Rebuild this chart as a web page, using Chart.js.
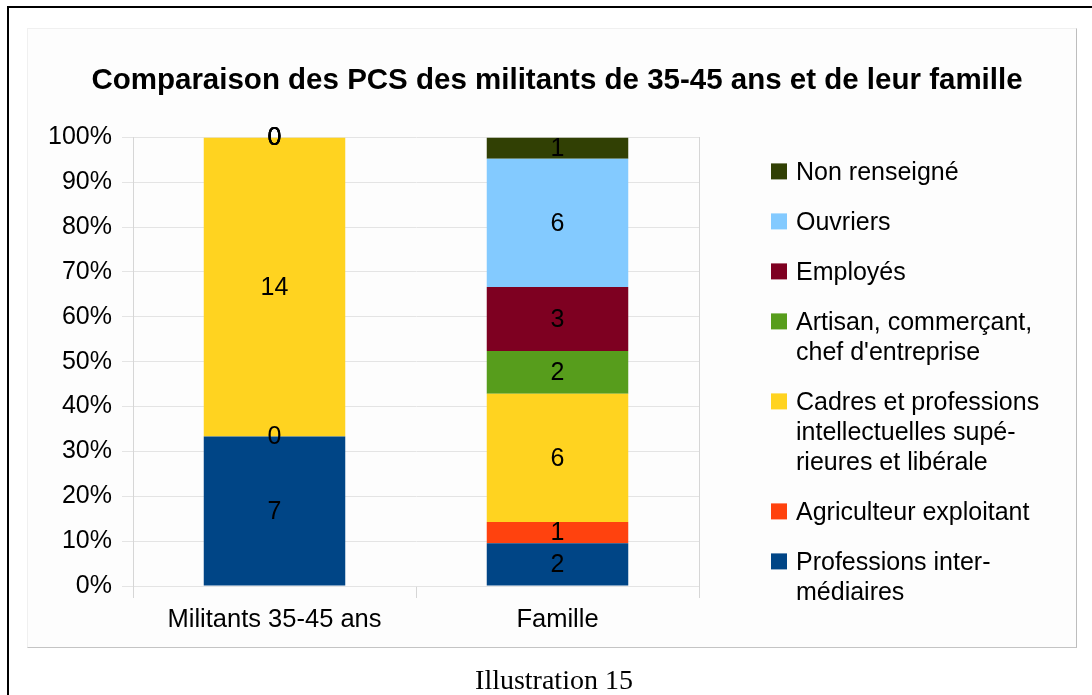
<!DOCTYPE html>
<html>
<head>
<meta charset="utf-8">
<script src="https://cdn.jsdelivr.net/npm/chart.js@4/dist/chart.umd.min.js"></script>
<style>
  html, body { margin: 0; padding: 0; background: #fff; overflow: hidden; }
  body { width: 1092px; height: 695px; position: relative; }
  #frame { position: absolute; left: 7px; top: 6px; width: 1200px; height: 800px; border: 2px solid #000; }
  #panel { position: absolute; left: 27px; top: 28px; width: 1048px; height: 618px; background: #fdfdfd;
           border: 1px solid #f0f0f0; border-right-color: #bdbdbd; border-bottom-color: #c4c4c4; }
  #wrap { position: absolute; left: 0; top: 0; width: 1092px; height: 695px; }
  #caption { position: absolute; left: 0; width: 1108px; top: 665px; line-height: 30px; text-align: center;
             font-size: 28px; font-family: 'Liberation Serif', 'Times New Roman', serif; color: #000; }
</style>
</head>
<body>
<div id="frame"></div>
<div id="panel"></div>
<div id="wrap"><canvas id="chart"></canvas></div>
<div id="caption">Illustration 15</div>
<script>
// bars
const categories = ['Militants 35-45 ans', 'Famille'];

// counts per PCS, from bottom of the stack to the top
const professionsInter = [7, 2];
const agriculteur = [0, 1];
const cadres = [14, 6];
const artisan = [0, 2];
const employes = [0, 3];
const ouvriers = [0, 6];
const nonRenseigne = [0, 1];

const seriesNames = [
    'Professions intermédiaires',
    'Agriculteur exploitant',
    'Cadres et professions intellectuelles supérieures et libérale',
    'Artisan, commerçant, chef d\'entreprise',
    'Employés',
    'Ouvriers',
    'Non renseigné'
];
// legend text as it is wrapped in the picture
const legendLines = [
    ['Professions inter-', 'médiaires'],
    ['Agriculteur exploitant'],
    ['Cadres et professions', 'intellectuelles supé-', 'rieures et libérale'],
    ['Artisan, commerçant,', 'chef d\'entreprise'],
    ['Employés'],
    ['Ouvriers'],
    ['Non renseigné']
];
const seriesValues = [professionsInter, agriculteur, cadres, artisan, employes, ouvriers, nonRenseigne];
const seriesColors = ['#004586', '#ff420e', '#ffd320', '#579d1c', '#7e0021', '#83caff', '#314004'];

const FONT = '"Liberation Sans", Arial, sans-serif';

// 100% stacked: turn counts into shares of each bar
var totals = categories.map(function (c, j) {
    return seriesValues.reduce(function (s, arr) { return s + arr[j]; }, 0);
});

var datasets = seriesValues.map(function (arr, i) {
    return {
        label: seriesNames[i],
        data: arr.map(function (v, j) { return v / totals[j] * 100; }),
        counts: arr,
        backgroundColor: seriesColors[i],
        borderWidth: 0,
        barPercentage: 0.5,
        categoryPercentage: 1
    };
});

// count written in the middle of each segment
const valueLabels = {
    id: 'valueLabels',
    afterDatasetsDraw(chart) {
        var ctx = chart.ctx;
        ctx.save();
        ctx.font = '25px ' + FONT;
        ctx.fillStyle = '#000';
        ctx.textAlign = 'center';
        ctx.textBaseline = 'middle';
        chart.data.datasets.forEach(function (ds, i) {
            chart.getDatasetMeta(i).data.forEach(function (bar, j) {
                ctx.fillText(String(ds.counts[j]), bar.x, (bar.y + bar.base) / 2 + 1);
            });
        });
        ctx.restore();
    }
};

// legend on the right, top item = top of the stack
const sideLegend = {
    id: 'sideLegend',
    afterDraw(chart) {
        var ctx = chart.ctx;
        var area = chart.chartArea;
        var boxX = area.right + 72;
        var textX = area.right + 97;
        var y = area.top + 35;
        ctx.save();
        ctx.font = '25px ' + FONT;
        ctx.textAlign = 'left';
        ctx.textBaseline = 'middle';
        for (var i = seriesNames.length - 1; i >= 0; i--) {
            ctx.fillStyle = seriesColors[i];
            ctx.fillRect(boxX, y - 9, 16, 16);
            ctx.fillStyle = '#000';
            legendLines[i].forEach(function (line, k) {
                ctx.fillText(line, textX, y + k * 30 + 1);
            });
            y += legendLines[i].length * 30 + 20;
        }
        ctx.restore();
    }
};

var chart = new Chart(document.getElementById('chart'), {
    type: 'bar',
    data: {
        labels: categories,
        datasets: datasets
    },
    options: {
        responsive: true,
        maintainAspectRatio: false,
        animation: false,
        layout: { padding: { left: 22, top: 0, right: 0, bottom: 60 } },
        plugins: {
            legend: { display: false },
            tooltip: { enabled: false },
            title: {
                display: true,
                text: 'Comparaison des PCS des militants de 35-45 ans et de leur famille',
                color: '#000',
                font: { family: FONT, size: 29.5, weight: 'bold' },
                padding: { top: 63, bottom: 39 }
            }
        },
        scales: {
            x: {
                stacked: true,
                grid: { offset: true, drawOnChartArea: false, tickLength: 12, color: '#d6d6d6' },
                border: { display: false },
                ticks: { color: '#000', font: { family: FONT, size: 25.5 }, padding: 7 },
                afterFit: function (s) { s.height = 49; }
            },
            y: {
                stacked: true,
                min: 0,
                max: 100,
                ticks: {
                    stepSize: 10,
                    color: '#000',
                    font: { family: FONT, size: 25 },
                    padding: 10,
                    callback: function (v) { return v + '%'; }
                },
                grid: { color: '#e4e4e4', tickLength: 11 },
                border: { color: '#d6d6d6' },
                afterFit: function (s) { s.width = 111; }
            },
            // empty axis: keeps room for the legend and draws the right edge of the plot
            yR: {
                position: 'right',
                grid: { display: false },
                ticks: { display: false },
                border: { color: '#d6d6d6' },
                afterFit: function (s) { s.width = 393; }
            }
        }
    },
    plugins: [valueLabels, sideLegend]
});
</script>
</body>
</html>
